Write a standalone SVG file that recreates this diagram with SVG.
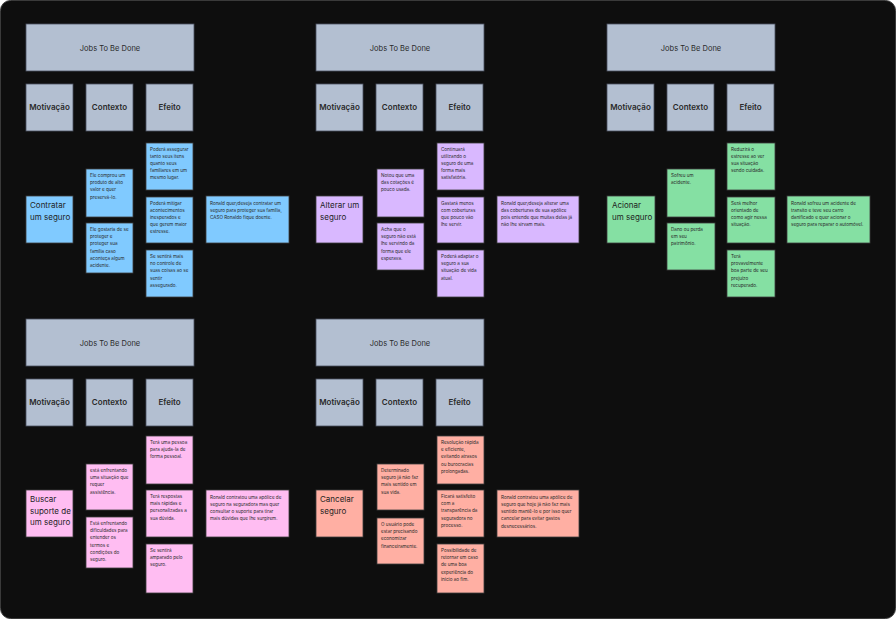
<svg xmlns="http://www.w3.org/2000/svg" width="896" height="619" viewBox="0 0 896 619">
<style>
.bg{fill:#0e0e0e;stroke:#3a3a3a;stroke-width:1}
.hdr{fill:#b3bfd1;stroke:#4a5160;stroke-width:0.8}
.ht{font-family:Inter,"Liberation Sans",sans-serif;font-size:7.5px;fill:#2a2a2a;text-anchor:middle}
.lt{font-family:Inter,"Liberation Sans",sans-serif;font-size:8px;font-weight:600;fill:#2a2a2a;text-anchor:middle}
.note{stroke:#3d3d3d;stroke-width:0.8}
.blue{fill:#80caff}.violet{fill:#d9b8ff}.green{fill:#85e0a3}.pink{fill:#ffbdf2}.red{fill:#ffafa3}
.t{font-family:Inter,"Liberation Sans",sans-serif;font-size:4.6px;fill:#2a2a2a}
.mt{font-family:Inter,"Liberation Sans",sans-serif;font-size:8px;fill:#1e1e1e}
</style>
<rect width="896" height="619" fill="#ffffff"/>
<rect class="bg" x="0.5" y="0.5" width="895" height="618" rx="10"/>

<!-- Block 1 -->
<g id="b1-header"><rect class="hdr" x="26" y="24" width="168" height="47"/><text class="ht" x="110" y="50.5">Jobs To Be Done</text></g>
<g id="b1-motivacao"><rect class="hdr" x="26" y="84" width="47" height="47"/><text class="lt" x="49.5" y="110">Motivação</text></g>
<g id="b1-contexto"><rect class="hdr" x="86" y="84" width="47" height="47"/><text class="lt" x="109.5" y="110">Contexto</text></g>
<g id="b1-efeito"><rect class="hdr" x="146" y="84" width="47" height="47"/><text class="lt" x="169.5" y="110">Efeito</text></g>
<g id="b1-mot"><rect class="note blue" x="26" y="196" width="47" height="47"/><text class="mt" x="30" y="208"><tspan x="30">Contratar</tspan><tspan x="30" dy="12">um seguro</tspan></text></g>
<g id="b1-ctx1"><rect class="note blue" x="86" y="169" width="47" height="48"/><text class="t" x="90" y="177"><tspan x="90">Ele comprou um</tspan><tspan x="90" dy="7.2">produto de alto</tspan><tspan x="90" dy="7.2">valor e quer</tspan><tspan x="90" dy="7.2">preservá-lo.</tspan></text></g>
<g id="b1-ctx2"><rect class="note blue" x="86" y="223" width="47" height="50"/><text class="t" x="90" y="231"><tspan x="90">Ele gostaria de se</tspan><tspan x="90" dy="7.2">proteger e</tspan><tspan x="90" dy="7.2">proteger sua</tspan><tspan x="90" dy="7.2">família caso</tspan><tspan x="90" dy="7.2">aconteça algum</tspan><tspan x="90" dy="7.2">acidente.</tspan></text></g>
<g id="b1-eff1"><rect class="note blue" x="146" y="143" width="47" height="47"/><text class="t" x="150" y="150.5"><tspan x="150">Poderá assegurar</tspan><tspan x="150" dy="7.2">tanto seus itens</tspan><tspan x="150" dy="7.2">quanto seus</tspan><tspan x="150" dy="7.2">familiares em um</tspan><tspan x="150" dy="7.2">mesmo lugar.</tspan></text></g>
<g id="b1-eff2"><rect class="note blue" x="146" y="197" width="47" height="46"/><text class="t" x="150" y="204.5"><tspan x="150">Poderá mitigar</tspan><tspan x="150" dy="7.2">acontecimentos</tspan><tspan x="150" dy="7.2">inesperados e</tspan><tspan x="150" dy="7.2">que gerem maior</tspan><tspan x="150" dy="7.2">estresse.</tspan></text></g>
<g id="b1-eff3"><rect class="note blue" x="146" y="250" width="47" height="47"/><text class="t" x="150" y="258"><tspan x="150">Se sentirá mais</tspan><tspan x="150" dy="7.2">no controle de</tspan><tspan x="150" dy="7.2">suas coisas ao se</tspan><tspan x="150" dy="7.2">sentir</tspan><tspan x="150" dy="7.2">assegurado.</tspan></text></g>
<g id="b1-res"><rect class="note blue" x="206" y="196" width="83" height="47"/><text class="t" x="210" y="204.5"><tspan x="210">Ronald quer/deseja contratar um</tspan><tspan x="210" dy="7.3">seguro para  proteger sua família,</tspan><tspan x="210" dy="7.3">CASO Ronaldo fique doente.</tspan></text></g>

<!-- Block 2 -->
<g id="b2-header"><rect class="hdr" x="316" y="24" width="168" height="47"/><text class="ht" x="400" y="50.5">Jobs To Be Done</text></g>
<g id="b2-motivacao"><rect class="hdr" x="316" y="84" width="47" height="47"/><text class="lt" x="339.5" y="110">Motivação</text></g>
<g id="b2-contexto"><rect class="hdr" x="376" y="84" width="47" height="47"/><text class="lt" x="399.5" y="110">Contexto</text></g>
<g id="b2-efeito"><rect class="hdr" x="436" y="84" width="47" height="47"/><text class="lt" x="459.5" y="110">Efeito</text></g>
<g id="b2-mot"><rect class="note violet" x="316" y="196" width="47" height="47"/><text class="mt" x="320" y="208"><tspan x="320">Alterar um</tspan><tspan x="320" dy="12">seguro</tspan></text></g>
<g id="b2-ctx1"><rect class="note violet" x="377" y="169" width="47" height="48"/><text class="t" x="381" y="177"><tspan x="381">Notou que uma</tspan><tspan x="381" dy="7.2">das cotações é</tspan><tspan x="381" dy="7.2">pouco usada.</tspan></text></g>
<g id="b2-ctx2"><rect class="note violet" x="377" y="223" width="47" height="47"/><text class="t" x="381" y="231"><tspan x="381">Acha que o</tspan><tspan x="381" dy="7.2">seguro não está</tspan><tspan x="381" dy="7.2">lhe servindo da</tspan><tspan x="381" dy="7.2">forma que ele</tspan><tspan x="381" dy="7.2">esperava.</tspan></text></g>
<g id="b2-eff1"><rect class="note violet" x="437" y="143" width="47" height="47"/><text class="t" x="441" y="150.5"><tspan x="441">Continuará</tspan><tspan x="441" dy="7.2">utilizando o</tspan><tspan x="441" dy="7.2">seguro de uma</tspan><tspan x="441" dy="7.2">forma mais</tspan><tspan x="441" dy="7.2">satisfatória.</tspan></text></g>
<g id="b2-eff2"><rect class="note violet" x="437" y="197" width="47" height="46"/><text class="t" x="441" y="204.5"><tspan x="441">Gastará menos</tspan><tspan x="441" dy="7.2">com coberturas</tspan><tspan x="441" dy="7.2">que pouco vão</tspan><tspan x="441" dy="7.2">lhe servir.</tspan></text></g>
<g id="b2-eff3"><rect class="note violet" x="437" y="250" width="47" height="47"/><text class="t" x="441" y="258"><tspan x="441">Poderá adaptar o</tspan><tspan x="441" dy="7.2">seguro a sua</tspan><tspan x="441" dy="7.2">situação de vida</tspan><tspan x="441" dy="7.2">atual.</tspan></text></g>
<g id="b2-res"><rect class="note violet" x="497" y="196" width="82" height="47"/><text class="t" x="501" y="204.5"><tspan x="501">Ronald quer/deseja alterar uma</tspan><tspan x="501" dy="7.3">das coberturas de sua apólice</tspan><tspan x="501" dy="7.3">pois entende que muitas delas já</tspan><tspan x="501" dy="7.3">não lhe sirvam mais.</tspan></text></g>

<!-- Block 3 -->
<g id="b3-header"><rect class="hdr" x="607" y="24" width="168" height="47"/><text class="ht" x="691" y="50.5">Jobs To Be Done</text></g>
<g id="b3-motivacao"><rect class="hdr" x="607" y="84" width="47" height="47"/><text class="lt" x="630.5" y="110">Motivação</text></g>
<g id="b3-contexto"><rect class="hdr" x="667" y="84" width="47" height="47"/><text class="lt" x="690.5" y="110">Contexto</text></g>
<g id="b3-efeito"><rect class="hdr" x="727" y="84" width="47" height="47"/><text class="lt" x="750.5" y="110">Efeito</text></g>
<g id="b3-mot"><rect class="note green" x="607" y="196" width="48" height="47"/><text class="mt" x="612" y="208"><tspan x="612">Acionar</tspan><tspan x="612" dy="12">um seguro</tspan></text></g>
<g id="b3-ctx1"><rect class="note green" x="667" y="169" width="48" height="48"/><text class="t" x="671" y="177"><tspan x="671">Sofreu um</tspan><tspan x="671" dy="7.2">acidente.</tspan></text></g>
<g id="b3-ctx2"><rect class="note green" x="667" y="223" width="48" height="47"/><text class="t" x="671" y="231"><tspan x="671">Dano ou perda</tspan><tspan x="671" dy="7.2">em seu</tspan><tspan x="671" dy="7.2">patrimônio.</tspan></text></g>
<g id="b3-eff1"><rect class="note green" x="727" y="143" width="48" height="47"/><text class="t" x="731" y="150.5"><tspan x="731">Reduzirá o</tspan><tspan x="731" dy="7.2">estresse ao ver</tspan><tspan x="731" dy="7.2">sua situação</tspan><tspan x="731" dy="7.2">sendo cuidada.</tspan></text></g>
<g id="b3-eff2"><rect class="note green" x="727" y="197" width="48" height="46"/><text class="t" x="731" y="204.5"><tspan x="731">Será melhor</tspan><tspan x="731" dy="7.2">orientado de</tspan><tspan x="731" dy="7.2">como agir nessa</tspan><tspan x="731" dy="7.2">situação.</tspan></text></g>
<g id="b3-eff3"><rect class="note green" x="727" y="250" width="48" height="47"/><text class="t" x="731" y="258"><tspan x="731">Terá</tspan><tspan x="731" dy="7.2">provavelmente</tspan><tspan x="731" dy="7.2">boa parte de seu</tspan><tspan x="731" dy="7.2">prejuízo</tspan><tspan x="731" dy="7.2">recuperado.</tspan></text></g>
<g id="b3-res"><rect class="note green" x="787" y="196" width="83" height="47"/><text class="t" x="791" y="204.5"><tspan x="791">Ronald sofreu um acidente de</tspan><tspan x="791" dy="7.3">transito e teve seu carro</tspan><tspan x="791" dy="7.3">danificado e quer acionar o</tspan><tspan x="791" dy="7.3">seguro para reparar o automóvel.</tspan></text></g>

<!-- Block 4 -->
<g id="b4-header"><rect class="hdr" x="26" y="319" width="168" height="47"/><text class="ht" x="110" y="345.5">Jobs To Be Done</text></g>
<g id="b4-motivacao"><rect class="hdr" x="26" y="379" width="47" height="47"/><text class="lt" x="49.5" y="405">Motivação</text></g>
<g id="b4-contexto"><rect class="hdr" x="86" y="379" width="47" height="47"/><text class="lt" x="109.5" y="405">Contexto</text></g>
<g id="b4-efeito"><rect class="hdr" x="146" y="379" width="47" height="47"/><text class="lt" x="169.5" y="405">Efeito</text></g>
<g id="b4-mot"><rect class="note pink" x="26" y="490" width="47" height="47"/><text class="mt" x="30" y="502"><tspan x="30">Buscar</tspan><tspan x="30" dy="11.5">suporte de</tspan><tspan x="30" dy="11.5">um seguro</tspan></text></g>
<g id="b4-ctx1"><rect class="note pink" x="86" y="464" width="47" height="46"/><text class="t" x="90" y="472"><tspan x="90">está enfrentando</tspan><tspan x="90" dy="7.2">uma situação que</tspan><tspan x="90" dy="7.2">requer</tspan><tspan x="90" dy="7.2">assistência.</tspan></text></g>
<g id="b4-ctx2"><rect class="note pink" x="86" y="517" width="47" height="51"/><text class="t" x="90" y="525"><tspan x="90">Está enfrentando</tspan><tspan x="90" dy="7.2">dificuldades para</tspan><tspan x="90" dy="7.2">entender os</tspan><tspan x="90" dy="7.2">termos e</tspan><tspan x="90" dy="7.2">condições do</tspan><tspan x="90" dy="7.2">seguro.</tspan></text></g>
<g id="b4-eff1"><rect class="note pink" x="146" y="436" width="47" height="48"/><text class="t" x="150" y="444"><tspan x="150">Terá uma pessoa</tspan><tspan x="150" dy="7.2">para ajuda-la de</tspan><tspan x="150" dy="7.2">forma pessoal.</tspan></text></g>
<g id="b4-eff2"><rect class="note pink" x="146" y="490" width="47" height="47"/><text class="t" x="150" y="498"><tspan x="150">Terá respostas</tspan><tspan x="150" dy="7.2">mais rápidas e</tspan><tspan x="150" dy="7.2">personalizadas a</tspan><tspan x="150" dy="7.2">sua dúvida.</tspan></text></g>
<g id="b4-eff3"><rect class="note pink" x="146" y="544" width="47" height="49"/><text class="t" x="150" y="552"><tspan x="150">Se sentirá</tspan><tspan x="150" dy="7.2">amparado pelo</tspan><tspan x="150" dy="7.2">seguro.</tspan></text></g>
<g id="b4-res"><rect class="note pink" x="206" y="490" width="83" height="47"/><text class="t" x="210" y="498.5"><tspan x="210">Ronald contratou uma apólice de</tspan><tspan x="210" dy="7.3">seguro na seguradora mas quer</tspan><tspan x="210" dy="7.3">consultar o suporte para tirar</tspan><tspan x="210" dy="7.3">mais dúvidas que lhe surgirem.</tspan></text></g>

<!-- Block 5 -->
<g id="b5-header"><rect class="hdr" x="316" y="319" width="168" height="47"/><text class="ht" x="400" y="345.5">Jobs To Be Done</text></g>
<g id="b5-motivacao"><rect class="hdr" x="316" y="379" width="47" height="47"/><text class="lt" x="339.5" y="405">Motivação</text></g>
<g id="b5-contexto"><rect class="hdr" x="376" y="379" width="47" height="47"/><text class="lt" x="399.5" y="405">Contexto</text></g>
<g id="b5-efeito"><rect class="hdr" x="436" y="379" width="47" height="47"/><text class="lt" x="459.5" y="405">Efeito</text></g>
<g id="b5-mot"><rect class="note red" x="316" y="490" width="47" height="47"/><text class="mt" x="320" y="502"><tspan x="320">Cancelar</tspan><tspan x="320" dy="12">seguro</tspan></text></g>
<g id="b5-ctx1"><rect class="note red" x="377" y="464" width="47" height="46"/><text class="t" x="381" y="472"><tspan x="381">Determinado</tspan><tspan x="381" dy="7.2">seguro já não faz</tspan><tspan x="381" dy="7.2">mais sentido em</tspan><tspan x="381" dy="7.2">sua vida.</tspan></text></g>
<g id="b5-ctx2"><rect class="note red" x="377" y="518" width="47" height="46"/><text class="t" x="381" y="526"><tspan x="381">O usuário pode</tspan><tspan x="381" dy="7.2">estar precisando</tspan><tspan x="381" dy="7.2">economizar</tspan><tspan x="381" dy="7.2">financeiramente.</tspan></text></g>
<g id="b5-eff1"><rect class="note red" x="437" y="436" width="47" height="48"/><text class="t" x="441" y="444"><tspan x="441">Resolução rápida</tspan><tspan x="441" dy="7.2">e eficiente,</tspan><tspan x="441" dy="7.2">evitando atrasos</tspan><tspan x="441" dy="7.2">ou burocracias</tspan><tspan x="441" dy="7.2">prolongadas.</tspan></text></g>
<g id="b5-eff2"><rect class="note red" x="437" y="490" width="47" height="47"/><text class="t" x="441" y="498"><tspan x="441">Ficará satisfeito</tspan><tspan x="441" dy="7.2">com a</tspan><tspan x="441" dy="7.2">transparência da</tspan><tspan x="441" dy="7.2">seguradora no</tspan><tspan x="441" dy="7.2">processo.</tspan></text></g>
<g id="b5-eff3"><rect class="note red" x="437" y="544" width="47" height="49"/><text class="t" x="441" y="552"><tspan x="441">Possibilidade de</tspan><tspan x="441" dy="7.2">retornar em caso</tspan><tspan x="441" dy="7.2">de uma boa</tspan><tspan x="441" dy="7.2">experiência do</tspan><tspan x="441" dy="7.2">início ao fim.</tspan></text></g>
<g id="b5-res"><rect class="note red" x="497" y="490" width="82" height="47"/><text class="t" x="501" y="498.5"><tspan x="501">Ronald contratou uma apólice de</tspan><tspan x="501" dy="7.3">seguro que hoje já não faz mais</tspan><tspan x="501" dy="7.3">sentido mantê-lo e por isso quer</tspan><tspan x="501" dy="7.3">cancelar para evitar gastos</tspan><tspan x="501" dy="7.3">desnecessários.</tspan></text></g>

<g id="connectors"></g>
</svg>
